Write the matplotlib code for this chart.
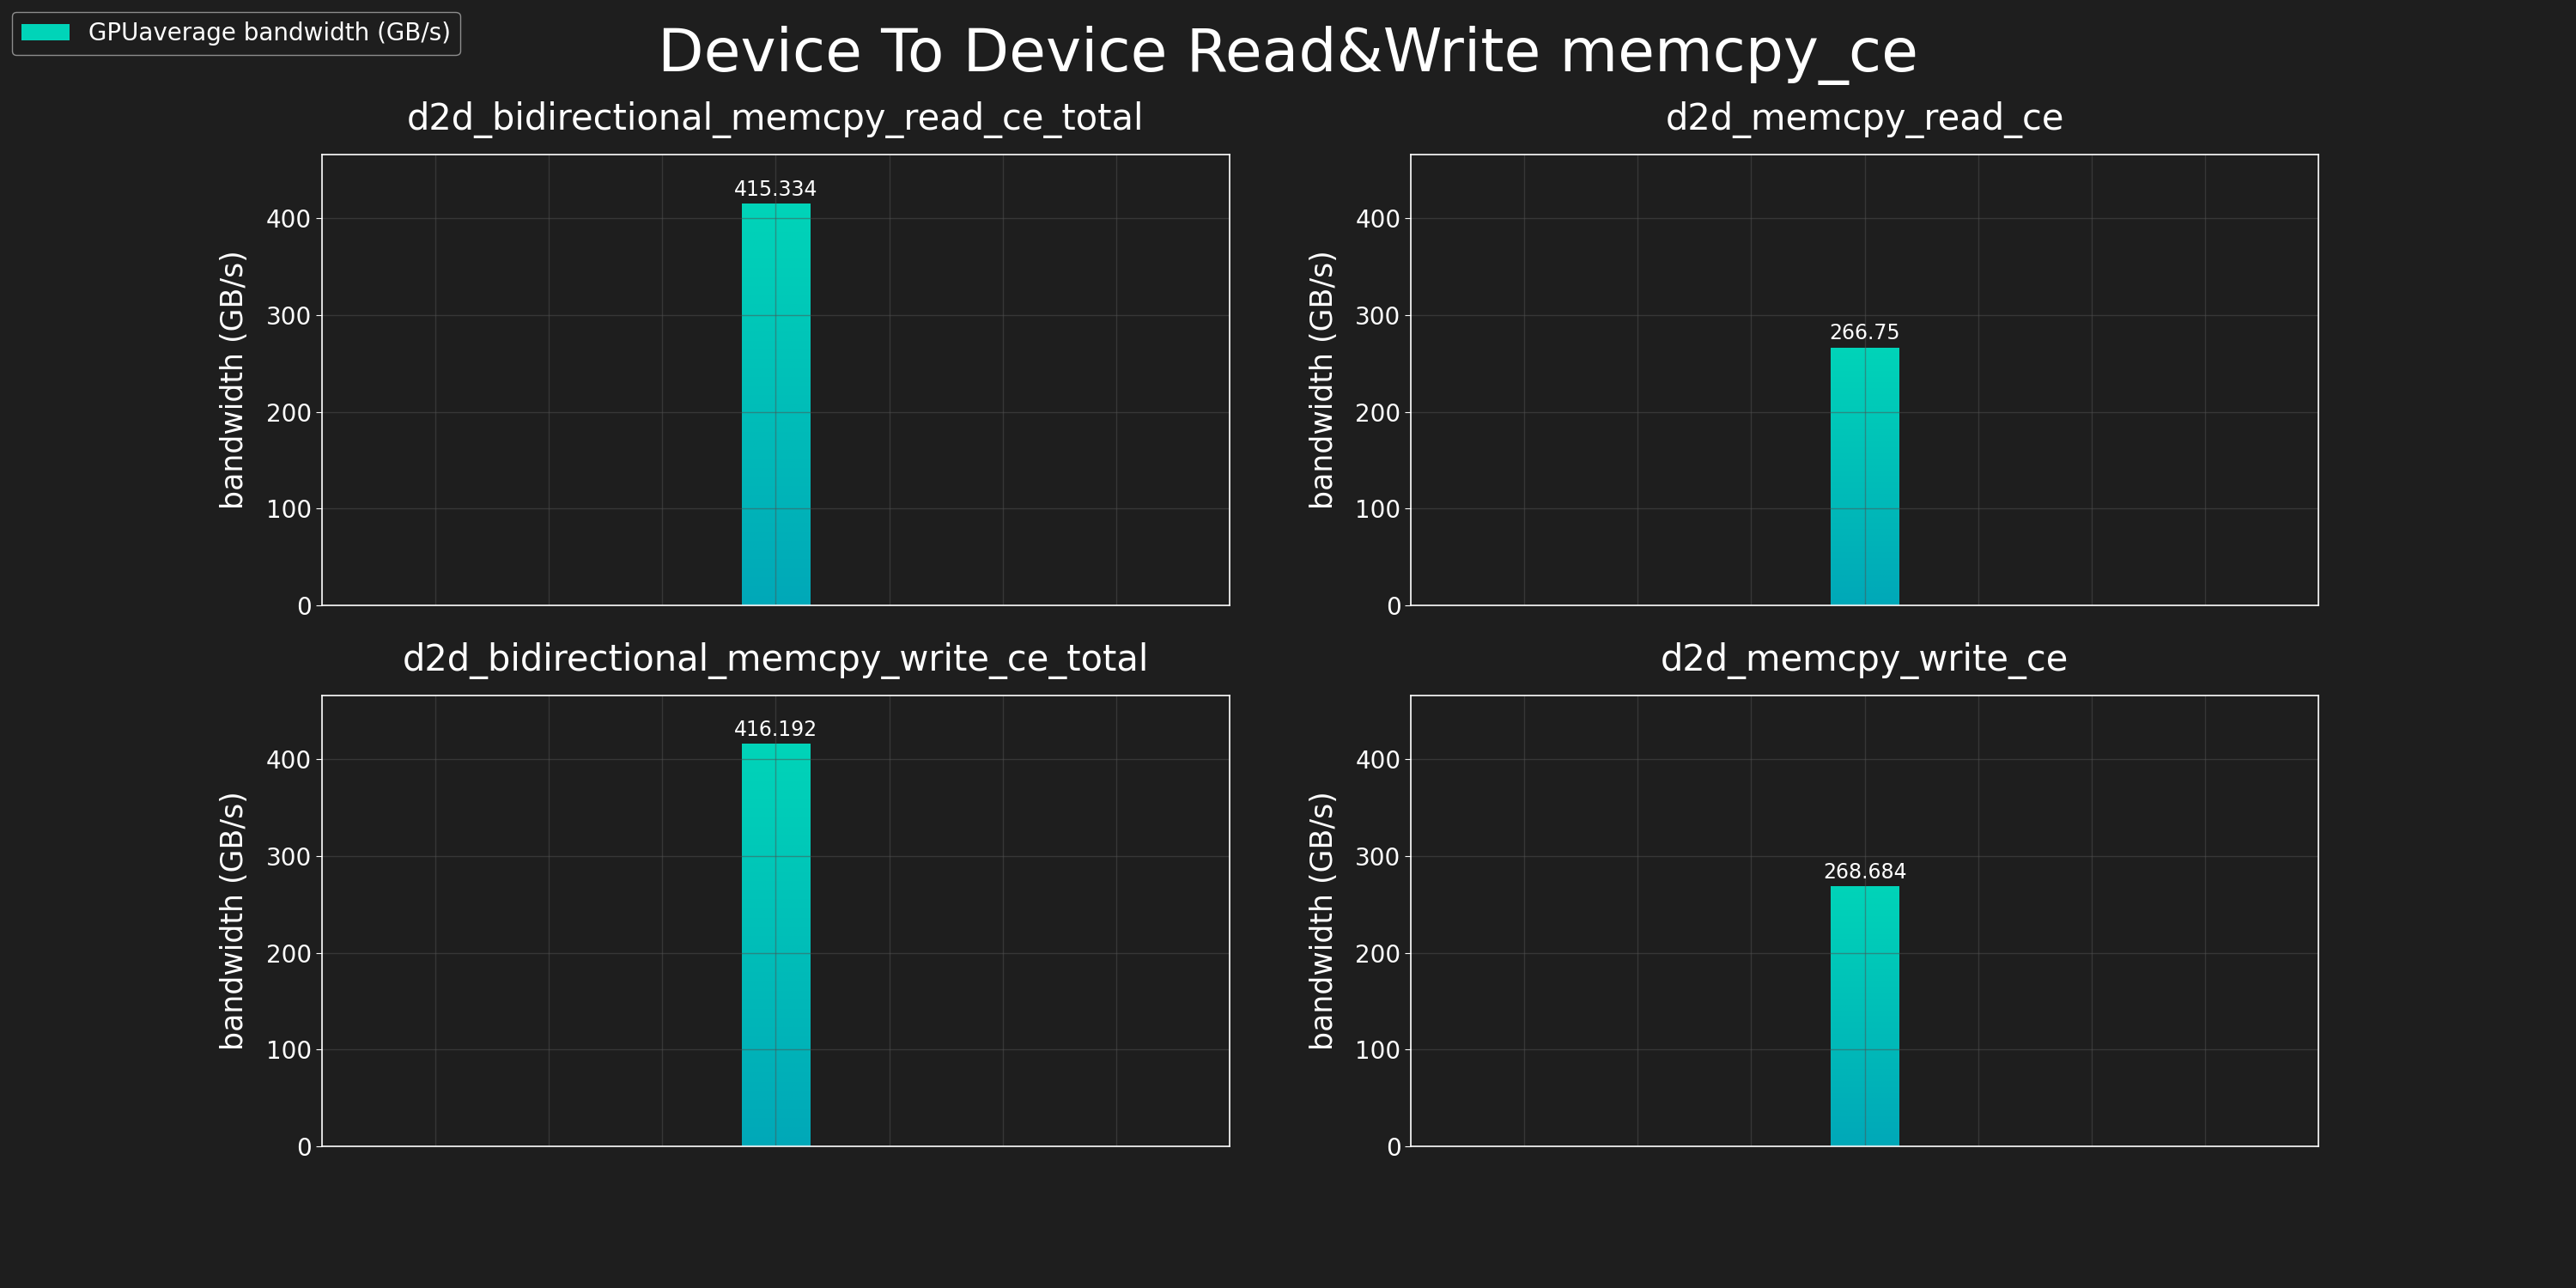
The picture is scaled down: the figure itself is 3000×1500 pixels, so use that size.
import numpy as np
import matplotlib
matplotlib.use('Agg')
import matplotlib.pyplot as plt
from matplotlib.colors import LinearSegmentedColormap

# benchmark results, one bar per panel
tests = ['d2d_bidirectional_memcpy_read_ce_total', 'd2d_memcpy_read_ce',
         'd2d_bidirectional_memcpy_write_ce_total', 'd2d_memcpy_write_ce']
bandwidth = [415.334, 266.75, 416.192, 268.684]
series_name = 'GPUaverage bandwidth (GB/s)'
yticks = [0, 100, 200, 300, 400]

bg = '#1e1e1e'
top_color = '#00d4b8'
bottom_color = '#00a8b8'
grad = LinearSegmentedColormap.from_list('grad', [bottom_color, top_color])

fig, axes = plt.subplots(2, 2, figsize=(30, 15), dpi=100, sharey=True)
fig.patch.set_facecolor(bg)
ymax = max(bandwidth) * 1.12

for ax, name, val in zip(axes.flat, tests, bandwidth):
    ax.set_facecolor(bg)
    bars = ax.bar([0], [val], width=0.6, color=top_color, label=series_name, zorder=1)
    b = bars[0]
    x0, w = b.get_x(), b.get_width()
    img = ax.imshow(np.linspace(1, 0, 256).reshape(-1, 1), cmap=grad, aspect='auto',
                    extent=(x0, x0 + w, 0, val), zorder=1.2)
    img.set_clip_path(b)
    ax.bar_label(bars, labels=[f'{val:g}'], padding=3, color='white', fontsize=17, zorder=3)

    ax.set_xlim(-4, 4)
    ax.set_ylim(0, ymax)
    ax.set_xticks(range(-4, 5))
    ax.set_xticklabels([])
    ax.tick_params(axis='x', length=0)
    ax.set_yticks(yticks)
    ax.yaxis.set_tick_params(labelleft=True)
    ax.tick_params(axis='y', colors='white', labelsize=20, length=5)
    ax.grid(True, color='#505050', alpha=0.5, linewidth=1)
    for s in ax.spines.values():
        s.set_color('white')
        s.set_linewidth(1.2)
    ax.set_title(name, color='white', fontsize=30, pad=21)
    ax.set_ylabel('bandwidth (GB/s)', color='white', fontsize=25, labelpad=14)

fig.suptitle('Device To Device Read&Write memcpy_ce', color='white', fontsize=50)
handles, labels = axes[0, 0].get_legend_handles_labels()
leg = fig.legend(handles, labels, loc='upper left', fontsize=20,
                 facecolor=bg, edgecolor='#aaaaaa', labelcolor='white')

fig.savefig('out.png', facecolor=bg)
